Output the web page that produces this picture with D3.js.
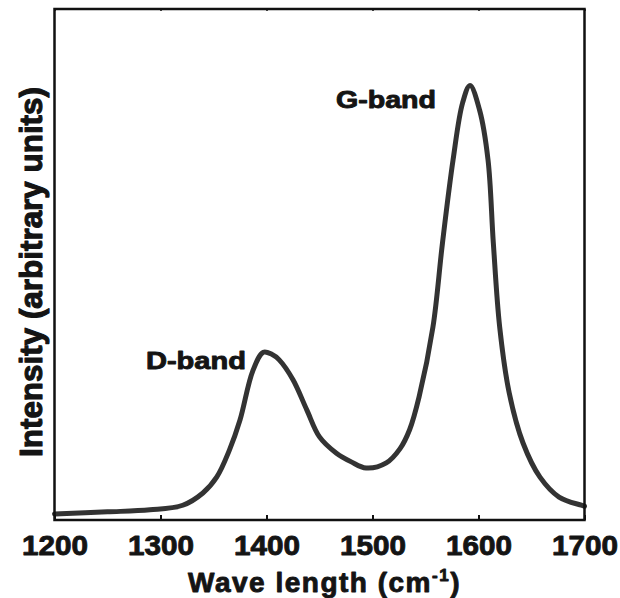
<!DOCTYPE html>
<html>
<head>
<meta charset="utf-8">
<script src="https://cdn.jsdelivr.net/npm/d3@7"></script>
<style>
  html, body { margin: 0; padding: 0; background: #fff; }
  svg { display: block; }
  text { font-family: "Liberation Sans", Arial, sans-serif; font-weight: bold; fill: #141414; stroke: #141414; stroke-width: 0.9px; stroke-linejoin: round; }
</style>
</head>
<body>
<svg id="chart" width="620" height="598"></svg>
<script>
// Raman spectrum, values
const wavenumbers = [1200, 1250, 1290, 1321, 1340, 1353, 1365, 1375, 1387, 1397, 1405, 1412, 1425, 1438, 1450, 1466, 1480, 1494, 1513, 1526, 1535, 1544, 1557, 1566, 1576, 1585, 1592, 1601, 1609, 1614, 1620, 1629, 1642, 1658, 1676, 1697, 1700];
const intensity   = [1.0, 1.4, 1.8, 2.7, 5.1, 8.2, 13.5, 19.4, 29.0, 32.7, 32.3, 31.2, 27.3, 21.4, 16.1, 12.9, 11.2, 10.0, 11.0, 13.8, 17.5, 24.0, 37.6, 54.1, 70.4, 81.6, 85.0, 80.2, 70.4, 54.1, 37.6, 24.7, 14.9, 8.2, 4.3, 2.7, 2.5];
const xTicks = [1200, 1300, 1400, 1500, 1600, 1700];
const bandLabels = ["D-band", "G-band"];
const bandLabelPos = [[1286.3, 29.5], [1465.6, 80.5]];
const xTitle = "Wave length (cm";
const xTitleSup = "-1";
const yTitle = "Intensity (arbitrary units)";

(function () {
const svg = d3.select("#chart");
const mL = 54.5, mR = 584.5, mT = 9, mB = 520;

const x = d3.scaleLinear().domain([1200, 1700]).range([mL, mR]);
const y = d3.scaleLinear().domain([0, 100]).range([519, 9]);

svg.append("rect").attr("width", 620).attr("height", 598).attr("fill", "#fff");

// curve
const pts = wavenumbers.map((w, i) => [w, intensity[i]]);
const line = d3.line().x(d => x(d[0])).y(d => y(d[1])).curve(d3.curveCatmullRom.alpha(0.5));
svg.append("path").datum(pts)
  .attr("d", line)
  .attr("fill", "none")
  .attr("stroke", "#333")
  .attr("stroke-width", 5)
  .attr("stroke-linejoin", "round")
  .attr("stroke-linecap", "round");

// frame
svg.append("rect")
  .attr("x", mL).attr("y", mT)
  .attr("width", mR - mL).attr("height", mB - mT)
  .attr("fill", "none").attr("stroke", "#111").attr("stroke-width", 2.5);

// bottom axis (ticks pointing inward)
const gx = svg.append("g").attr("transform", `translate(0,${mB})`)
  .call(d3.axisBottom(x).tickValues(xTicks).tickFormat(d3.format("d")).tickSizeInner(-5).tickSizeOuter(0).tickPadding(15));
gx.select(".domain").remove();
gx.selectAll(".tick line").attr("stroke", "#111").attr("stroke-width", 2);
gx.selectAll(".tick text")
  .attr("font-family", "Liberation Sans, Arial, sans-serif")
  .attr("font-size", 28).attr("font-weight", "bold").attr("fill", "#141414")
  .attr("y", 35).attr("dy", 0)
  .attr("textLength", 66).attr("lengthAdjust", "spacingAndGlyphs");

// top axis tiny ticks
const gt = svg.append("g").attr("transform", `translate(0,${mT})`)
  .call(d3.axisTop(x).tickValues(xTicks).tickFormat("").tickSizeInner(-2).tickSizeOuter(0));
gt.select(".domain").remove();
gt.selectAll(".tick line").attr("stroke", "#111").attr("stroke-width", 1.5);

// band labels
svg.selectAll(".band").data(bandLabels).enter().append("text")
  .attr("class", "band")
  .attr("x", (d, i) => x(bandLabelPos[i][0]))
  .attr("y", (d, i) => y(bandLabelPos[i][1]))
  .attr("font-size", 24)
  .attr("textLength", 100).attr("lengthAdjust", "spacingAndGlyphs")
  .text(d => d);

// x title
const xt = svg.append("text")
  .attr("x", (mL + mR) / 2 + 5).attr("y", 592)
  .attr("text-anchor", "middle")
  .attr("font-size", 28)
  .attr("letter-spacing", 1.5);
xt.append("tspan").text(xTitle);
xt.append("tspan").attr("font-size", 17).attr("dy", -11).text(xTitleSup);
xt.append("tspan").attr("dy", 11).text(")");

// y title
svg.append("text")
  .attr("transform", `translate(42,${272}) rotate(-90)`)
  .attr("text-anchor", "middle")
  .attr("font-size", 31)
  .style("stroke-width", "1.1px")
  .attr("textLength", 370).attr("lengthAdjust", "spacingAndGlyphs")
  .text(yTitle);
})();
</script>
</body>
</html>
